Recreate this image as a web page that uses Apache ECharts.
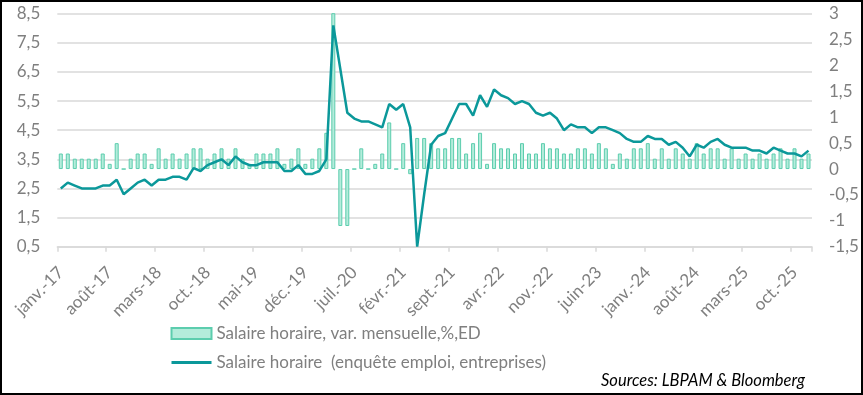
<!DOCTYPE html>
<html>
<head>
<meta charset="utf-8">
<script src="https://cdn.jsdelivr.net/npm/echarts@6/dist/echarts.min.js"></script>
<style>
html,body{margin:0;padding:0;background:#fff;}
#c{width:863px;height:395px;}
</style>
</head>
<body>
<div id="c"></div>
<script>
// Month abbreviations and years used to build category labels
const monthNames = ['janv.','févr.','mars','avr.','mai','juin','juil.','août','sept.','oct.','nov.','déc.'];
const years = ['17','18','19','20','21','22','23','24','25'];
const categories = [];
years.forEach(y => monthNames.forEach(m => categories.push(m + '-' + y)));

// Salaire horaire, var. mensuelle, % (right axis)
const monthlyChange = [
  0.3,0.3,0.2,0.2,0.2,0.2,0.3,0.1,0.5,0,0.2,0.3,
  0.3,0.1,0.4,0.2,0.3,0.2,0.3,0.4,0.4,0.2,0.3,0.4,
  0.2,0.4,0.2,0.1,0.3,0.3,0.3,0.4,0.1,0.2,0.4,0.1,
  0.2,0.4,0.7,4.7,-1.1,-1.1,0,0.4,0,0.1,0.3,0.9,
  0,0.5,-0.1,0.6,0.6,0.5,0.4,0.4,0.6,0.6,0.3,0.5,
  0.7,0.1,0.5,0.4,0.4,0.3,0.5,0.3,0.3,0.5,0.4,0.4,
  0.3,0.3,0.4,0.4,0.3,0.5,0.4,0.1,0.3,0.2,0.4,0.4,
  0.5,0.2,0.4,0.2,0.4,0.3,0.2,0.5,0.3,0.4,0.4,0.2,
  0.4,0.2,0.3,0.2,0.3,0.2,0.3,0.4,0.2,0.4,0.2,0.3
];

// Salaire horaire (enquête emploi, entreprises), % a/a (left axis)
const yearlyChange = [
  2.5,2.7,2.6,2.5,2.5,2.5,2.6,2.6,2.8,2.3,2.5,2.7,
  2.8,2.6,2.8,2.8,2.9,2.9,2.8,3.2,3.1,3.3,3.4,3.5,
  3.3,3.6,3.4,3.3,3.3,3.4,3.4,3.4,3.1,3.1,3.3,3.0,
  3.0,3.1,3.5,8.1,6.6,5.1,4.9,4.8,4.8,4.7,4.6,5.4,
  5.2,5.4,4.6,0.5,2.3,4.0,4.3,4.4,4.9,5.4,5.4,5.0,
  5.7,5.3,5.9,5.7,5.6,5.4,5.5,5.4,5.1,5.0,5.1,4.9,
  4.5,4.7,4.6,4.6,4.4,4.6,4.6,4.5,4.4,4.2,4.1,4.1,
  4.3,4.2,4.2,4.0,4.1,3.9,3.6,4.0,3.9,4.1,4.2,4.0,
  3.9,3.9,3.9,3.8,3.8,3.7,3.9,3.8,3.7,3.7,3.6,3.8
];

const seriesNames = ['Salaire horaire, var. mensuelle,%,ED', 'Salaire horaire  (enquête emploi, entreprises)'];
const sourceText = 'Sources: LBPAM & Bloomberg';

const FONT = 'Lato, "Liberation Sans", sans-serif';
const GRAY = '#7f7f7f';
const LINE_COLOR = '#0b989a';
const fmt = v => (Math.round(v * 10) / 10).toString().replace('.', ',');

const chart = echarts.init(document.getElementById('c'), null, {renderer: 'canvas'});
chart.setOption({
  animation: false,
  backgroundColor: '#fff',
  textStyle: {fontFamily: FONT},
  grid: {left: 57.3, right: 51, top: 13.7, bottom: 148.3, containLabel: false},
  legend: {
    orient: 'vertical',
    left: 165,
    top: 320,
    itemWidth: 40,
    itemHeight: 11,
    itemGap: 12,
    textStyle: {color: GRAY, fontSize: 17, fontFamily: FONT},
    data: [
      {name: seriesNames[0], icon: 'rect'},
      {name: seriesNames[1], itemStyle: {color: 'rgba(0,0,0,0)', borderWidth: 0, opacity: 0}, lineStyle: {color: LINE_COLOR, width: 3}}
    ]
  },
  xAxis: {
    type: 'category',
    data: categories,
    boundaryGap: true,
    axisLine: {onZero: false, lineStyle: {color: '#d9d9d9', width: 1.5}},
    axisTick: {show: true, interval: 6, length: 5, lineStyle: {color: '#d9d9d9', width: 1.5}},
    axisLabel: {interval: 6, rotate: 45, margin: 23, color: GRAY, fontSize: 17, fontFamily: FONT},
    splitLine: {show: false}
  },
  yAxis: [
    {
      type: 'value', min: 0.5, max: 8.5, interval: 1,
      axisLine: {show: false}, axisTick: {show: false},
      axisLabel: {color: GRAY, fontSize: 17, margin: 17, formatter: fmt, fontFamily: FONT},
      splitLine: {show: true, lineStyle: {color: '#d9d9d9', width: 1.5}}
    },
    {
      type: 'value', min: -1.5, max: 3, interval: 0.5,
      axisLine: {show: false}, axisTick: {show: false},
      axisLabel: {color: GRAY, fontSize: 17, margin: 17, formatter: fmt, fontFamily: FONT},
      splitLine: {show: false}
    }
  ],
  series: [
    {
      name: seriesNames[0],
      type: 'bar',
      yAxisIndex: 1,
      data: monthlyChange,
      barWidth: 4,
      clip: true,
      itemStyle: {color: '#b4ecdb', borderColor: '#5ccdae', borderWidth: 1}
    },
    {
      name: seriesNames[1],
      type: 'line',
      yAxisIndex: 0,
      data: yearlyChange,
      symbol: 'none',
      clip: true,
      z: 5,
      lineStyle: {color: LINE_COLOR, width: 2.5},
      itemStyle: {color: LINE_COLOR}
    }
  ],
  graphic: [
    {type: 'rect', shape: {x: 1, y: 1, width: 861, height: 393}, style: {fill: 'none', stroke: '#000', lineWidth: 2}, silent: true, z: 100},
    {type: 'text', right: 58, top: 372, style: {text: sourceText, fill: '#000', font: 'italic 16.5px ' + FONT}}
  ]
});
</script>
</body>
</html>
